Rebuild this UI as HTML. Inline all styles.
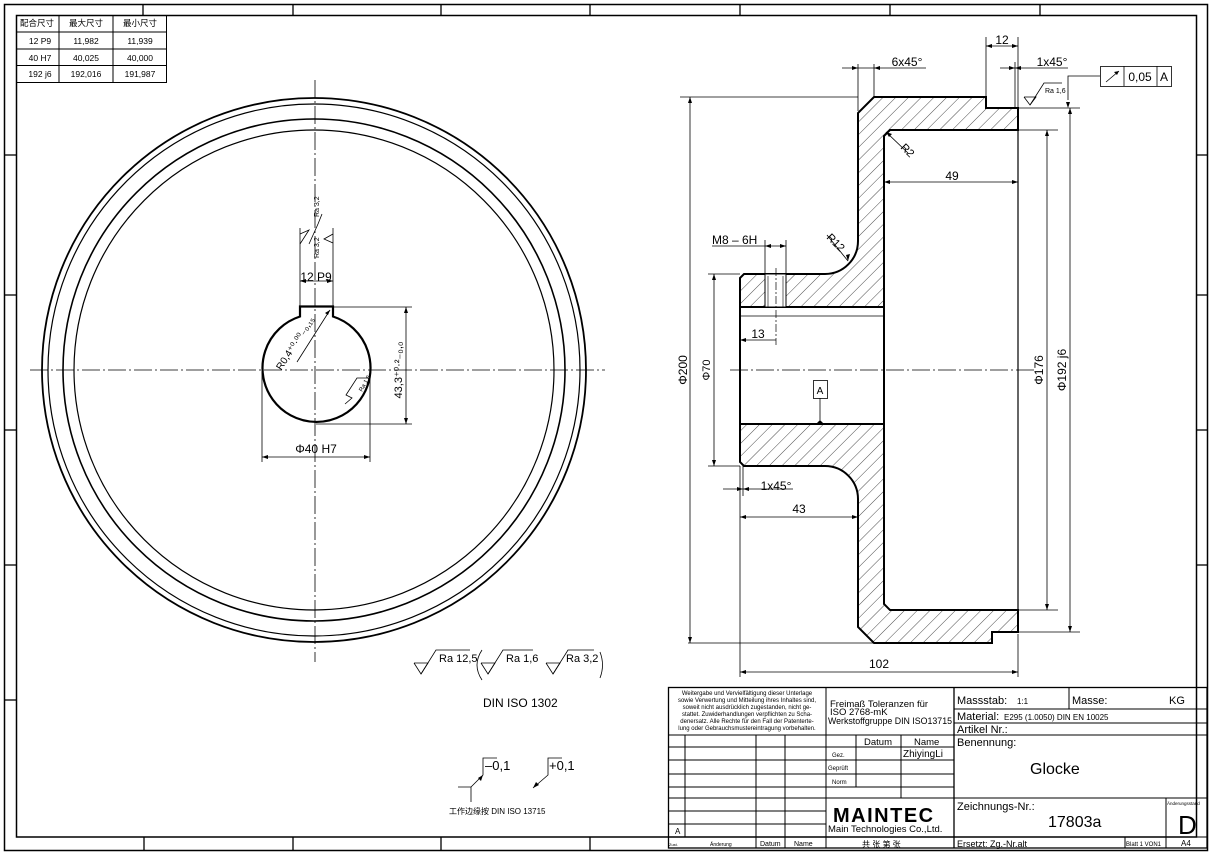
<!DOCTYPE html>
<html><head><meta charset="utf-8"><style>
html,body{margin:0;padding:0;background:#fff;}
svg{display:block;}
text{font-family:"Liberation Sans","Noto Sans CJK SC",sans-serif;fill:#000;}
</style></head><body>
<svg width="1212" height="855" viewBox="0 0 1212 855" xmlns="http://www.w3.org/2000/svg">
<defs>
<pattern id="h" patternUnits="userSpaceOnUse" width="9" height="9" patternTransform="rotate(45)">
<line x1="0" y1="0" x2="0" y2="9" stroke="#000" stroke-width="0.7"/>
</pattern>
</defs>
<g fill="none" stroke="#000">
<rect x="4.5" y="4.5" width="1203" height="846" stroke-width="1.5"/>
<rect x="16.5" y="15.5" width="1180" height="821.5" stroke-width="1.5"/>
<g stroke-width="1.3">
<line x1="143" y1="4" x2="143" y2="15"/><line x1="293" y1="4" x2="293" y2="15"/><line x1="441" y1="4" x2="441" y2="15"/><line x1="590" y1="4" x2="590" y2="15"/><line x1="740" y1="4" x2="740" y2="15"/><line x1="890" y1="4" x2="890" y2="15"/><line x1="1040" y1="4" x2="1040" y2="15"/>
<line x1="144" y1="837" x2="144" y2="851"/><line x1="293" y1="837" x2="293" y2="851"/><line x1="441" y1="837" x2="441" y2="851"/><line x1="590" y1="837" x2="590" y2="851"/>
<line x1="4" y1="155" x2="16" y2="155"/><line x1="4" y1="295" x2="16" y2="295"/><line x1="4" y1="430" x2="16" y2="430"/><line x1="4" y1="565" x2="16" y2="565"/><line x1="4" y1="700" x2="16" y2="700"/>
<line x1="1196" y1="155" x2="1208" y2="155"/><line x1="1196" y1="295" x2="1208" y2="295"/><line x1="1196" y1="430" x2="1208" y2="430"/><line x1="1196" y1="565" x2="1208" y2="565"/>
</g>
<g stroke-width="1">
<rect x="16.5" y="15.5" width="150" height="67"/>
<line x1="59" y1="15" x2="59" y2="82"/><line x1="113" y1="15" x2="113" y2="82"/>
<line x1="16" y1="32" x2="167" y2="32"/><line x1="16" y1="49" x2="167" y2="49"/><line x1="16" y1="65.5" x2="167" y2="65.5"/>
</g>
</g>
<g font-size="8.5" text-anchor="middle">
<text x="37" y="26">配合尺寸</text><text x="86" y="26">最大尺寸</text><text x="140" y="26">最小尺寸</text>
<text x="40" y="44">12 P9</text><text x="86" y="44">11,982</text><text x="140" y="44">11,939</text>
<text x="40" y="61">40 H7</text><text x="86" y="61">40,025</text><text x="140" y="61">40,000</text>
<text x="40" y="77">192 j6</text><text x="86" y="77">192,016</text><text x="140" y="77">191,987</text>
</g>

<g fill="none" stroke="#000">
<circle cx="314" cy="370" r="272" stroke-width="1.8"/>
<circle cx="314" cy="370" r="266" stroke-width="1.2"/>
<circle cx="314" cy="370" r="251" stroke-width="1.6"/>
<circle cx="314" cy="370" r="240" stroke-width="1.2"/>
<g stroke-width="0.8" stroke-dasharray="18,3,2,3">
<line x1="30" y1="370" x2="605" y2="370"/>
<line x1="315" y1="80" x2="315" y2="662"/>
</g>
<path d="M300,316.5 A54,54 0 1 0 333,316.5 L333,306.5 L300,306.5 Z" stroke-width="2.2"/>
<g stroke-width="0.8">
<line x1="300" y1="306" x2="300" y2="228"/><line x1="333" y1="306" x2="333" y2="228"/>
<line x1="300" y1="281" x2="333" y2="281"/>
<line x1="334" y1="307" x2="412" y2="307"/><line x1="316" y1="424" x2="412" y2="424"/>
<line x1="406" y1="307" x2="406" y2="424"/>
<line x1="262" y1="372" x2="262" y2="462"/><line x1="370" y1="372" x2="370" y2="462"/>
<line x1="262" y1="457" x2="370" y2="457"/>
<line x1="297" y1="362" x2="330" y2="310"/>
<polyline points="300,234 309,230 300,244"/><polyline points="309,244 318,224 322,214"/>
<polyline points="333,234 324,239 333,243"/>
<polyline points="345,404 352,398 346,395 357,378 368,378"/>
</g>
<g fill="#000" stroke="none">
<path d="M300,281 l6,-2 v4z"/><path d="M333,281 l-6,-2 v4z"/>
<path d="M406,307 l-2,6 h4z"/><path d="M406,424 l-2,-6 h4z"/>
<path d="M262,457 l6,-2 v4z"/><path d="M370,457 l-6,-2 v4z"/>
<path d="M330,310 l-5,3 l3,2z"/>
</g>
</g>
<text x="316" y="281" font-size="12" text-anchor="middle">12 P9</text>
<text x="316" y="453" font-size="12" text-anchor="middle">Φ40 H7</text>
<text transform="translate(402,370) rotate(-90)" font-size="11" text-anchor="middle">43,3⁺⁰·²₋₀,₀</text>
<text transform="translate(298,345) rotate(-57)" font-size="10" text-anchor="middle">R0,4⁺⁰·⁰⁰₋₀,₁₅</text>
<text transform="translate(319,217) rotate(-90)" font-size="7">Ra 3,2</text>
<text transform="translate(319,258) rotate(-90)" font-size="7">Ra 3,2</text>
<text transform="translate(362,392) rotate(-60)" font-size="6">Ra 1,6</text>

<g stroke="#000">
<path d="M740,278 L744,274 L825,274 A33,33 0 0 0 858,241 L858,113 L874,97 L986,97 L986,108 L1018,108 L1018,130 L890,130 L884,136 L884,307 L740,307 Z" fill="url(#h)" stroke-width="2"/>
<path d="M740,424 L884,424 L884,604 L890,610 L1018,610 L1018,632 L992,632 L992,643 L874,643 L858,627 L858,499 A33,33 0 0 0 825,466 L744,466 L740,462 Z" fill="url(#h)" stroke-width="2"/>
<rect x="765" y="274" width="21" height="33" fill="#fff" stroke-width="1"/>
<line x1="768" y1="276" x2="768" y2="307" stroke-width="0.6"/><line x1="783" y1="276" x2="783" y2="307" stroke-width="0.6"/>
</g>
<g fill="none" stroke="#000">
<line x1="740" y1="307" x2="740" y2="424" stroke-width="2"/>
<line x1="884" y1="307" x2="884" y2="424" stroke-width="2"/>
<line x1="740" y1="316" x2="884" y2="316" stroke-width="0.8"/>
<line x1="1018" y1="130" x2="1018" y2="610" stroke-width="1.2"/>
<line x1="776" y1="268" x2="776" y2="345" stroke-width="0.7" stroke-dasharray="8,2,2,2"/>
<line x1="730" y1="370" x2="1035" y2="370" stroke-width="0.8" stroke-dasharray="18,3,2,3"/>
<g stroke-width="0.8">
<line x1="680" y1="97" x2="858" y2="97"/><line x1="688" y1="643" x2="874" y2="643"/><line x1="690" y1="97" x2="690" y2="643"/>
<line x1="708" y1="274" x2="740" y2="274"/><line x1="708" y1="466" x2="740" y2="466"/><line x1="714" y1="274" x2="714" y2="466"/>
<line x1="1018" y1="130" x2="1058" y2="130"/><line x1="1018" y1="610" x2="1058" y2="610"/><line x1="1047" y1="130" x2="1047" y2="610"/>
<line x1="1018" y1="108" x2="1080" y2="108"/><line x1="1018" y1="632" x2="1080" y2="632"/><line x1="1070" y1="108" x2="1070" y2="632"/>
<line x1="740" y1="466" x2="740" y2="677"/><line x1="1018" y1="634" x2="1018" y2="677"/><line x1="740" y1="672" x2="1018" y2="672"/>
<line x1="740" y1="517" x2="858" y2="517"/>
<line x1="743" y1="466" x2="743" y2="496"/><line x1="723" y1="489" x2="793" y2="489"/>
<line x1="740" y1="340" x2="776" y2="340"/>
<line x1="884" y1="182" x2="1018" y2="182"/>
<line x1="712" y1="246" x2="786" y2="246"/><line x1="765" y1="240" x2="765" y2="274"/><line x1="786" y1="240" x2="786" y2="274"/>
<line x1="858" y1="64" x2="858" y2="111"/><line x1="874" y1="64" x2="874" y2="97"/><line x1="842" y1="68" x2="926" y2="68"/>
<line x1="986" y1="37" x2="986" y2="97"/><line x1="1018" y1="37" x2="1018" y2="108"/><line x1="986" y1="46" x2="1018" y2="46"/>
<line x1="1015" y1="62" x2="1015" y2="108"/><line x1="1000" y1="68" x2="1068" y2="68"/>
<polyline points="1024,97 1030,105 1036,97 1024,97"/><polyline points="1030,105 1044,83 1062,83"/>
<polyline points="1100,76 1068,76 1068,100"/>
<rect x="1100.5" y="66.5" width="71" height="20"/><line x1="1124" y1="66" x2="1124" y2="86"/><line x1="1157" y1="66" x2="1157" y2="86"/>
<line x1="1106" y1="82" x2="1119" y2="71"/>
<line x1="886" y1="132" x2="908" y2="153"/><line x1="827" y1="235" x2="848" y2="261"/>
<rect x="813.5" y="380.5" width="14" height="18"/><line x1="820" y1="398" x2="820" y2="420"/>
<polyline points="414,663 421,674 428,663 414,663"/><polyline points="421,674 436,650 470,650"/>
<polyline points="481,663 488,674 495,663 481,663"/><polyline points="488,674 503,650 533,650"/>
<polyline points="546,663 553,674 560,663 546,663"/><polyline points="553,674 568,650 594,650"/>
<path d="M482,650 Q472,665 482,680"/><path d="M600,652 Q605,665 600,678"/>
<polyline points="458,787 471,787 471,802"/><polyline points="471,787 483,775 483,758 497,758"/>
<polyline points="533,788 548,775 548,758 562,758"/>
</g>
<g fill="#000" stroke="none">
<path d="M690,97 l-2,6 h4z"/><path d="M690,643 l-2,-6 h4z"/>
<path d="M714,274 l-2,6 h4z"/><path d="M714,466 l-2,-6 h4z"/>
<path d="M1047,130 l-2,6 h4z"/><path d="M1047,610 l-2,-6 h4z"/>
<path d="M1070,108 l-2,6 h4z"/><path d="M1070,632 l-2,-6 h4z"/>
<path d="M740,672 l6,-2 v4z"/><path d="M1018,672 l-6,-2 v4z"/>
<path d="M740,517 l6,-2 v4z"/><path d="M858,517 l-6,-2 v4z"/>
<path d="M743,489 l-6,-2 v4z"/><path d="M743,489 l6,-2 v4z"/>
<path d="M740,340 l6,-2 v4z"/>
<path d="M884,182 l6,-2 v4z"/><path d="M1018,182 l-6,-2 v4z"/>
<path d="M765,246 l6,-2 v4z"/><path d="M786,246 l-6,-2 v4z"/>
<path d="M858,68 l-6,-2 v4z"/><path d="M874,68 l6,-2 v4z"/>
<path d="M986,46 l6,-2 v4z"/><path d="M1018,46 l-6,-2 v4z"/>
<path d="M1015,68 l-6,-2 v4z"/><path d="M1015,68 l6,-2 v4z"/>
<path d="M1068,108 l-2,-6 h4z"/>
<path d="M886,132 l6,2 l-3,3z"/><path d="M848,261 l-2,-6 l4,-1z"/>
<path d="M820,420 l-5,5 h10z"/>
<path d="M1119,71 l-5,1 l3,3z"/>
<path d="M483,775 l-5,3 l3,3z"/><path d="M533,788 l3,-6 l3,3z"/>
</g>
</g>
<g font-size="12">
<text transform="translate(687,370) rotate(-90)" text-anchor="middle">Φ200</text>
<text transform="translate(710,370) rotate(-90)" text-anchor="middle" font-size="11">Φ70</text>
<text transform="translate(1043,370) rotate(-90)" text-anchor="middle">Φ176</text>
<text transform="translate(1066,370) rotate(-90)" text-anchor="middle">Φ192 j6</text>
<text x="879" y="668" text-anchor="middle">102</text>
<text x="799" y="513" text-anchor="middle">43</text>
<text x="776" y="490" text-anchor="middle">1x45°</text>
<text x="758" y="338" text-anchor="middle">13</text>
<text x="952" y="180" text-anchor="middle">49</text>
<text x="712" y="244">M8 – 6H</text>
<text x="907" y="66" text-anchor="middle">6x45°</text>
<text x="1002" y="44" text-anchor="middle">12</text>
<text x="1052" y="66" text-anchor="middle">1x45°</text>
<text x="1140" y="81" text-anchor="middle">0,05</text>
<text x="1164" y="81" text-anchor="middle">A</text>
<text x="820" y="394" text-anchor="middle" font-size="10">A</text>
<text transform="translate(900,148) rotate(45)" font-size="11">R2</text>
<text transform="translate(826,238) rotate(45)" font-size="11">R12</text>
<text x="1045" y="93" font-size="7">Ra 1,6</text>
</g>
<g font-size="11">
<text x="439" y="662">Ra 12,5</text><text x="506" y="662">Ra 1,6</text><text x="566" y="662">Ra 3,2</text>
<text x="483" y="707" font-size="12">DIN ISO  1302</text>
<text x="485" y="770" font-size="13">–0,1</text>
<text x="549" y="770" font-size="13">+0,1</text>
<text x="449" y="814" font-size="8">工作边缘按 DIN ISO 13715</text>
</g>

<g fill="none" stroke="#000" stroke-width="1">
<rect x="668.5" y="687.5" width="538.5" height="160.5" stroke-width="1.3"/>
<line x1="826" y1="687" x2="826" y2="848"/><line x1="954" y1="687" x2="954" y2="848" stroke-width="1.3"/>
<line x1="668" y1="735" x2="954" y2="735"/>
<line x1="954" y1="709" x2="1207" y2="709"/><line x1="954" y1="723" x2="1207" y2="723"/><line x1="954" y1="735" x2="1207" y2="735"/>
<line x1="1069" y1="687" x2="1069" y2="709"/>
<line x1="954" y1="798" x2="1207" y2="798"/><line x1="954" y1="837" x2="1207" y2="837"/>
<line x1="1166" y1="798" x2="1166" y2="848"/><line x1="1125" y1="837" x2="1125" y2="848"/>
<line x1="685" y1="735" x2="685" y2="837"/><line x1="756" y1="735" x2="756" y2="848"/><line x1="785" y1="735" x2="785" y2="848"/>
<line x1="856" y1="735" x2="856" y2="787"/><line x1="901" y1="735" x2="901" y2="798"/>
<line x1="826" y1="747" x2="954" y2="747"/>
<line x1="668" y1="747" x2="826" y2="747"/><line x1="668" y1="760" x2="954" y2="760"/><line x1="668" y1="774" x2="954" y2="774"/>
<line x1="668" y1="787" x2="954" y2="787"/><line x1="668" y1="798" x2="954" y2="798"/>
<line x1="668" y1="811" x2="826" y2="811"/><line x1="668" y1="824" x2="826" y2="824"/><line x1="668" y1="837" x2="954" y2="837"/>
</g>
<g font-size="6" text-anchor="middle" fill="#333">
<text x="747" y="695">Weitergabe und Vervielfältigung dieser Unterlage</text>
<text x="747" y="702">sowie Verwertung und Mitteilung ihres Inhaltes sind,</text>
<text x="747" y="709">soweit nicht ausdrücklich zugestanden, nicht ge-</text>
<text x="747" y="716">stattet. Zuwiderhandlungen verpflichten zu Scha-</text>
<text x="747" y="723">denersatz. Alle Rechte für den Fall der Patenterte-</text>
<text x="747" y="730">lung oder Gebrauchsmustereintragung vorbehalten.</text>
</g>
<g font-size="9.5">
<text x="830" y="707">Freimaß Toleranzen für</text>
<text x="830" y="715">ISO 2768-mK</text>
<text x="828" y="724" font-size="9" textLength="124" lengthAdjust="spacingAndGlyphs">Werkstoffgruppe DIN ISO13715</text>
<text x="864" y="745">Datum</text><text x="914" y="745">Name</text>
<text x="903" y="757" font-family="Liberation Serif" fill="#777" font-size="10">ZhiyingLi</text>
<text x="832" y="757" font-size="6">Gez.</text><text x="828" y="770" font-size="6">Geprüft</text><text x="832" y="784" font-size="6">Norm</text>
<text x="675" y="834" font-size="8">A</text>
<text x="669" y="846" font-size="4">Zust.</text><text x="710" y="846" font-size="5">Änderung</text>
<text x="760" y="846" font-size="7">Datum</text><text x="794" y="846" font-size="7">Name</text>
<text x="862" y="847" font-size="8" fill="#555">共 张 第 张</text>
<text x="833" y="822" font-size="20" font-weight="bold" letter-spacing="1.5">MAINTEC</text>
<text x="828" y="832" font-size="9.5">Main Technologies Co.,Ltd.</text>
<text x="957" y="704" font-size="11">Massstab:</text><text x="1017" y="704" font-size="8">1:1</text>
<text x="1072" y="704" font-size="11">Masse:</text><text x="1169" y="704" font-size="11">KG</text>
<text x="957" y="720" font-size="11">Material:</text><text x="1004" y="720" font-size="8">E295 (1.0050) DIN EN 10025</text>
<text x="957" y="733" font-size="11">Artikel Nr.:</text>
<text x="957" y="746" font-size="11">Benennung:</text>
<text x="1030" y="774" font-size="16">Glocke</text>
<text x="957" y="810" font-size="11">Zeichnungs-Nr.:</text>
<text x="1048" y="827" font-size="16">17803a</text>
<text x="1167" y="805" font-size="4.5">Änderungsstand</text>
<text x="1178" y="834" font-size="26">D</text>
<text x="957" y="847" font-size="9">Ersetzt: Zg.-Nr.alt</text>
<text x="1126" y="846" font-size="6">Blatt 1 VON1</text>
<text x="1181" y="846" font-size="8">A4</text>
</g>
</svg>
</body></html>
